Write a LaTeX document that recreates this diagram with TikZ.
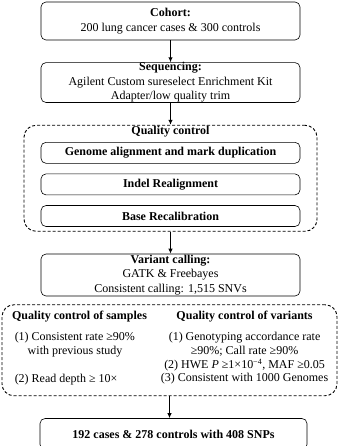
\documentclass[tikz,border=0pt]{standalone}
\usepackage{fontspec}
\setmainfont{Liberation Serif}
\usetikzlibrary{arrows.meta,positioning}

\begin{document}
\begin{tikzpicture}[x=1pt,y=1pt,node distance=22pt,>={Latex[length=5pt,width=4.5pt]},every node/.style={font=\fontsize{12}{14.5}\selectfont,align=center,inner sep=0pt},box/.style={draw,rounded corners=5pt,minimum width=259pt,line width=0.6pt},sub/.style={box,minimum height=21pt,font=\fontsize{12}{14.5}\selectfont\bfseries},group/.style={draw,dash pattern=on 3pt off 2pt,rounded corners=12pt,line width=0.9pt},head/.style={font=\fontsize{12}{14.5}\selectfont\bfseries}]
\useasboundingbox (0,0) rectangle (339,-446);
\node[box,minimum height=38pt] (cohort) at (170.5,-21) {\textbf{Cohort:}\\200 lung cancer cases \& 300 controls};
\node[box,minimum height=39pt,below=of cohort] (seq) {\textbf{Sequencing:}\\Agilent Custom sureselect Enrichment Kit\\Adapter/low quality trim};
\node[group,minimum width=293pt,minimum height=106pt,below=of seq] (qc) {};
\node[head] (qctitle) at ([yshift=-7pt]qc.north) {Quality control};
\node[sub] (align) at ([yshift=-28pt]qc.north) {Genome alignment and mark duplication};
\node[sub,below=10pt of align] (indel) {Indel Realignment};
\node[sub,below=10pt of indel] (recal) {Base Recalibration};
\node[box,minimum height=42pt,below=of qc] (call) {\textbf{Variant calling:}\\GATK \& Freebayes\\Consistent calling: 1,515 SNVs};
\node[group,minimum width=335pt,minimum height=91pt,below=8pt of call,xshift=-1pt] (qcb) {};
\node[head] (smptitle) at ([shift={(78pt,-12pt)}]qcb.north west) {Quality control of samples};
\node[anchor=west,align=left] (smp1) at ([shift={(13pt,-40.5pt)}]qcb.north west) {(1) Consistent rate ≥90\%\\\hspace*{13pt}with previous study};
\node[anchor=west,align=left] (smp2) at ([shift={(13pt,-75pt)}]qcb.north west) {(2) Read depth ≥ 10×};
\node[head] (vartitle) at ([shift={(243pt,-12pt)}]qcb.north west) {Quality control of variants};
\node (varlist) at ([shift={(243pt,-54pt)}]qcb.north west) {(1) Genotyping accordance rate\\≥90\%; Call rate ≥90\%\\[-1pt](2) HWE \textit{P} ≥1×10\textsuperscript{−4}, MAF ≥0.05\\[-1pt](3) Consistent with 1000 Genomes};
\node[box,minimum width=267pt,minimum height=31pt,below=of qcb,xshift=4pt] (final) {\textbf{192 cases \& 278 controls with 408 SNPs}};
\draw[->,line width=1pt] (cohort)--(seq);\draw[->,line width=1pt] (seq)--(qc);\draw[->,line width=1pt] (qc)--(call);\draw[->,line width=1pt] (qcb.south)--(qcb.south|-final.north);
\end{tikzpicture}
\end{document}
